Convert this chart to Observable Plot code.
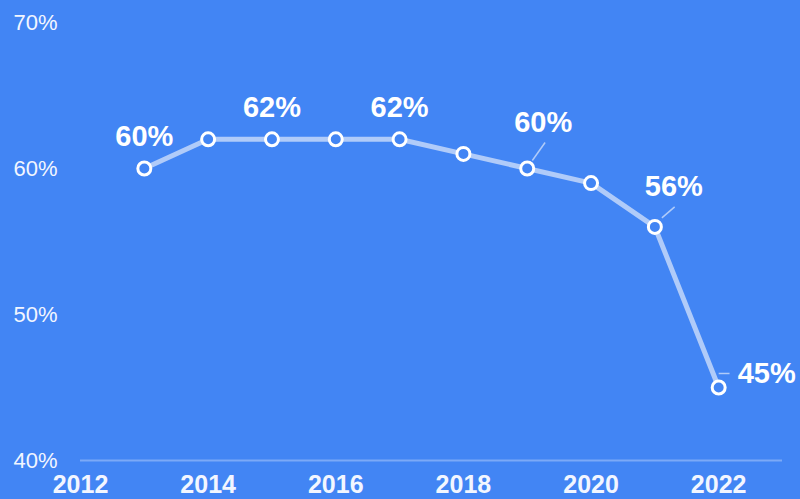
<!DOCTYPE html>
<html>
<head>
<meta charset="utf-8">
<script src="https://cdn.jsdelivr.net/npm/d3@7"></script>
<script src="https://cdn.jsdelivr.net/npm/@observablehq/plot@0.6"></script>
<style>
  html, body { margin: 0; padding: 0; background: #4285f4; }
  #chart { width: 800px; height: 499px; }
</style>
</head>
<body>
<div id="chart"></div>
<script>
// Yearly share, in percent
const years = [2013, 2014, 2015, 2016, 2017, 2018, 2019, 2020, 2021, 2022];
const shares = [60, 62, 62, 62, 62, 61, 60, 59, 56, 45];
// Years whose value is written next to the point
const labelledYears = [2013, 2015, 2017, 2019, 2021, 2022];
const yTicks = [40, 50, 60, 70];
const xTicks = [2012, 2014, 2016, 2018, 2020, 2022];

const bg = "#4285f4";
const font = "Liberation Sans, Arial, Helvetica, sans-serif";

const data = years.map((year, i) => ({year, value: shares[i]}));
const labelled = data.filter(d => labelledYears.includes(d.year));
const above = labelled.filter(d => [2013, 2015, 2017].includes(d.year));
const byYear = y => labelled.filter(d => d.year === y);
const fmt = d => `${d.value}%`;

const labelStyle = {fill: "white", fontSize: 29, fontWeight: "bold", text: fmt};

const chart = Plot.plot({
  width: 800,
  height: 499,
  marginTop: 22,
  marginBottom: 39,
  marginLeft: 80,
  marginRight: 18,
  style: {background: bg, fontFamily: font, color: "white", overflow: "visible"},
  x: {domain: [2012, 2023]},
  y: {domain: [40, 70]},
  marks: [
    Plot.axisY({ticks: yTicks, tickSize: 0, tickPadding: 0, textAnchor: "start", dx: -67,
      tickFormat: d => `${d}%`, fontSize: 22, fill: "#f2f6ff", label: null}),
    Plot.axisX({ticks: xTicks, tickSize: 0, tickPadding: 15, tickFormat: d => String(d),
      fontSize: 25, fontWeight: "bold", fill: "#f2f6ff", label: null}),
    Plot.ruleY([40], {stroke: "white", strokeOpacity: 0.3, strokeWidth: 2}),
    Plot.line(data, {x: "year", y: "value", stroke: "#b0cbf9", strokeWidth: 5}),
    // leader lines from points to their offset labels
    Plot.link(byYear(2019), {x1: d => d.year + 0.08, y1: d => d.value + 0.55,
      x2: d => d.year + 0.28, y2: d => d.value + 1.78, stroke: "#b0cbf9", strokeWidth: 1.5}),
    Plot.link(byYear(2021), {x1: d => d.year + 0.11, y1: d => d.value + 0.62,
      x2: d => d.year + 0.31, y2: d => d.value + 1.37, stroke: "#b0cbf9", strokeWidth: 1.5}),
    Plot.link(byYear(2022), {x1: d => d.year, y1: d => d.value + 0.96,
      x2: d => d.year + 0.17, y2: d => d.value + 0.96, stroke: "#b0cbf9", strokeWidth: 1.5}),
    Plot.dot(data, {x: "year", y: "value", r: 6.5, fill: bg, stroke: "white", strokeWidth: 3}),
    Plot.text(above, {x: "year", y: "value", dy: -32, ...labelStyle}),
    Plot.text(byYear(2019), {x: "year", y: "value", dx: 16, dy: -46, ...labelStyle}),
    Plot.text(byYear(2021), {x: "year", y: "value", dx: 19, dy: -40, ...labelStyle}),
    Plot.text(byYear(2022), {x: "year", y: "value", dx: 19, dy: -14, textAnchor: "start", ...labelStyle})
  ]
});
document.getElementById("chart").append(chart);
</script>
</body>
</html>
